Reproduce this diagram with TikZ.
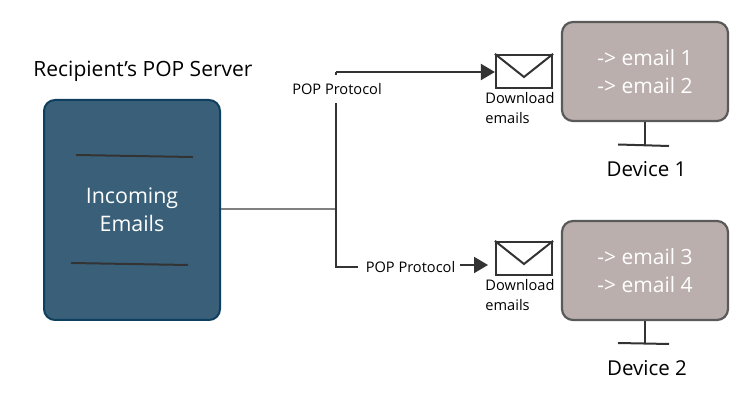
\documentclass[tikz,border=0pt]{standalone}
\usepackage{fontspec}
\setmainfont{Open Sans}
\usetikzlibrary{arrows.meta}
\definecolor{srv}{HTML}{3A6079}
\definecolor{srvb}{HTML}{0F3F5F}
\definecolor{mon}{HTML}{BBAFAD}
\definecolor{monb}{HTML}{5A5A5A}
\definecolor{ink}{HTML}{333333}
\tikzset{
 server/.style={draw=srvb,fill=srv,line width=2pt,rounded corners=11pt,minimum width=176pt,minimum height=220pt,inner sep=0pt},
 monitor/.style={draw=monb,fill=mon,line width=2.2pt,rounded corners=11pt,minimum width=166pt,minimum height=99pt,inner sep=0pt,text=white,font=\fontsize{21}{28}\selectfont,align=center},
 envbox/.style={draw=ink,fill=white,line width=2.2pt,minimum width=56pt,minimum height=33pt,inner sep=0pt},
 small/.style={font=\fontsize{14.6}{20}\selectfont,text=black,inner sep=0pt,align=left},
 big/.style={font=\fontsize{21}{24}\selectfont,text=black,inner sep=0pt},
 devlabel/.style={font=\fontsize{20.5}{24}\selectfont,text=black,inner sep=0pt},
 conn/.style={draw=ink,line width=2pt},
 tip/.style={-{Triangle[length=14pt,width=16pt]}},
 stroke/.style={draw=ink,line width=2pt}
}
\begin{document}
\begin{tikzpicture}[x=1pt,y=-1pt]
\useasboundingbox (0,0) rectangle (750,419);
\node[server,text=white,align=center,font=\fontsize{21.4}{28}\selectfont] (srvbox) at (132,210) {Incoming\\Emails};
\coordinate (l1a) at (76,155); \coordinate (l1b) at (193,157);
\coordinate (l2a) at (71,263); \coordinate (l2b) at (188,265);
\draw[stroke] (l1a) -- (l1b);
\draw[stroke] (l2a) -- (l2b);
\node[big] (title) at (143,71) {Recipient's POP Server};
% monitors
\node[monitor] (m1) at (645,71.5) {-> email 1\\-> email 2};
\node[monitor] (m2) at (645,270.5) {-> email 3\\-> email 4};
\coordinate (b1) at (645,146); \coordinate (f1a) at (618,144.5); \coordinate (f1b) at (669,146);
\coordinate (b2) at (645,344); \coordinate (f2a) at (618,343); \coordinate (f2b) at (669,344);
\draw[stroke] (m1.south -| b1) -- (b1);
\draw[stroke] (f1a) -- (f1b);
\draw[stroke] (m2.south -| b2) -- (b2);
\draw[stroke] (f2a) -- (f2b);
\node[devlabel] (d1) at (646.5,169) {Device 1};
\node[devlabel] (d2) at (647,368) {Device 2};
% envelopes
\node[envbox] (e1) at (524,71.5) {};
\node[envbox] (e2) at (524,258.5) {};
\coordinate (v1) at (524,77); \coordinate (v2) at (524,264);
\draw[conn] (e1.north west) -- (v1) -- (e1.north east);
\draw[conn] (e2.north west) -- (v2) -- (e2.north east);
\node[small] (t1) at (520,108.5) {Download\\emails};
\node[small] (t2) at (520,295.5) {Download\\emails};
% connectors
\node[small] (p1) at (337,89) {POP Protocol};
\node[small] (p2) at (410.5,267) {POP Protocol};
\coordinate (j) at (336,209.5);
\coordinate (up) at (336,72);
\coordinate (dn) at (336,267);
\coordinate (p2stop) at (358,267);
\draw[draw=gray,line width=2pt] (srvbox.east |- j) -- (j);
\draw[conn] (j) -- (336,103);
\draw[conn] (336,75.5) -- (up);
\draw[conn,tip] (up) -- (e1.west |- up);
\draw[conn] (j) -- (dn) -- (p2stop);
\coordinate (a2) at (460,265);
\draw[conn,tip] (a2) -- (488,265);
\end{tikzpicture}
\end{document}
